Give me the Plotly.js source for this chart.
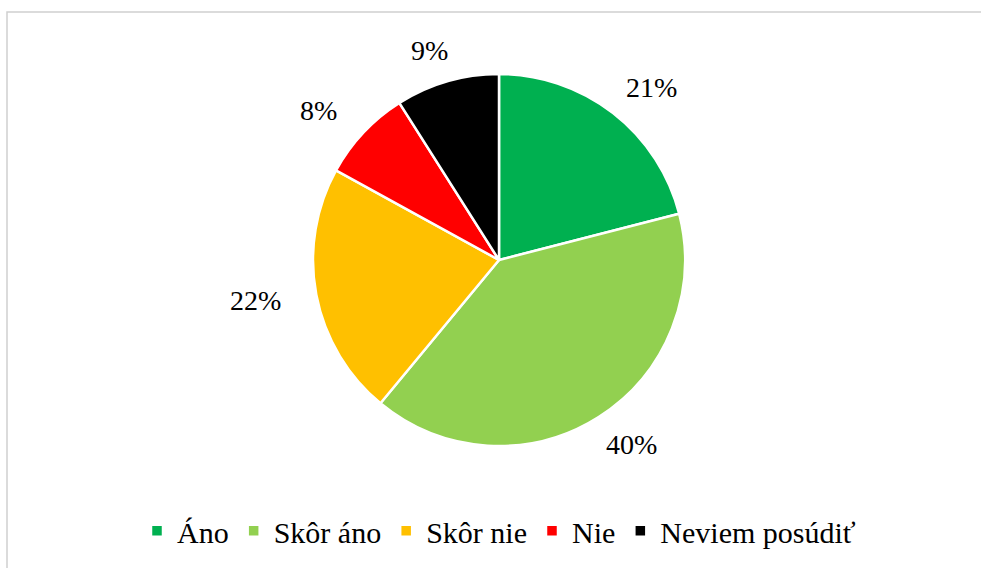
<!DOCTYPE html>
<html>
<head>
<meta charset="utf-8">
<script src="https://cdn.plot.ly/plotly-3.0.1.min.js"></script>
<style>html,body{margin:0;padding:0;background:#fff;}#chart{width:981px;height:568px;}</style>
</head>
<body>
<div id="chart"></div>
<script>
const categories = ["Áno", "Skôr áno", "Skôr nie", "Nie", "Neviem posúdiť"];
const values = [21, 40, 22, 8, 9];
const colors = ["#00B050", "#92D050", "#FFC000", "#FF0000", "#000000"];

const W = 981, H = 568;
const margin = {l: 17, r: 0, t: 74, b: 122};
const plotW = W - margin.l - margin.r, plotH = H - margin.t - margin.b;
const labelRx = 248, labelRy = 218; // px from centre

const FONT = 'Liberation Serif';
const total = values.reduce((a, b) => a + b, 0);
let cum = 0;
const annotations = values.map((v, i) => {
  const mid = (cum + v / 2) / total * 2 * Math.PI;
  cum += v;
  return {
    x: 0.5 + Math.sin(mid) * labelRx / plotW,
    y: 0.5 + Math.cos(mid) * labelRy / plotH,
    xref: 'paper', yref: 'paper',
    text: Math.round(v / total * 100) + '%',
    showarrow: false,
    xanchor: 'center', yanchor: 'middle',
    font: {family: FONT, size: 28, color: '#000000'}
  };
});

const trace = {
  type: 'pie',
  labels: categories,
  values: values,
  marker: {colors: colors, line: {color: '#ffffff', width: 2.5}},
  sort: false,
  direction: 'clockwise',
  rotation: 0,
  textinfo: 'none',
  hoverinfo: 'label+percent'
};

const layout = {
  width: W, height: H,
  margin: margin,
  paper_bgcolor: '#ffffff',
  showlegend: true,
  legend: {
    orientation: 'h', x: 0.5, xanchor: 'center', y: -0.228, yanchor: 'middle',
    font: {family: FONT, size: 30, color: '#000000'},
    itemwidth: 30, tracegroupgap: 0
  },
  annotations: annotations,
  shapes: [{
    type: 'rect', xref: 'paper', yref: 'paper',
    x0: (7 - margin.l) / plotW, x1: (990 - margin.l) / plotW,
    y0: (margin.t + plotH - 580) / plotH, y1: (margin.t + plotH - 12) / plotH,
    line: {color: '#d0d0d0', width: 1.5}, fillcolor: 'rgba(0,0,0,0)', layer: 'below'
  }]
};

Plotly.newPlot('chart', [trace], layout, {staticPlot: true});
</script>
</body>
</html>
